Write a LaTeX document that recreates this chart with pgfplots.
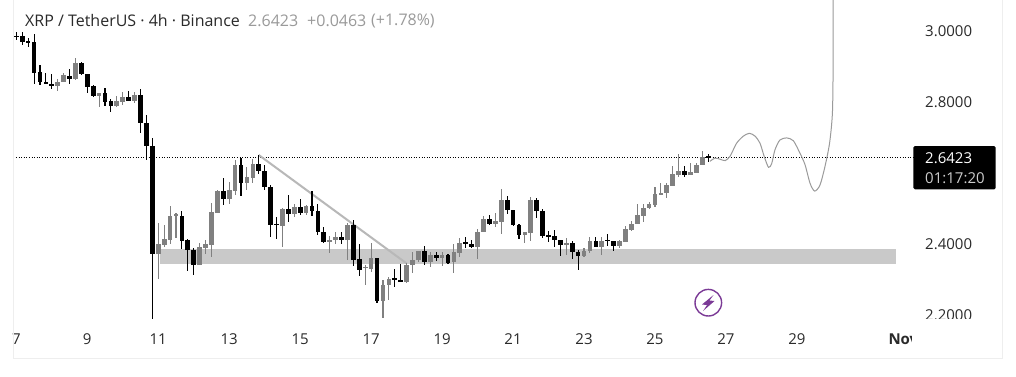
\documentclass[border=0pt]{standalone}
\usepackage{fontspec}
\setmainfont{Open Sans}
\usepackage{pgfplots}
\usepackage{pgfplotstable}
\pgfplotsset{compat=1.18}
\definecolor{upc}{HTML}{808080}
\definecolor{framec}{HTML}{EEEEEE}
\definecolor{bandc}{HTML}{C9C9C9}
\definecolor{textc}{HTML}{2A2A2A}
\definecolor{qc}{HTML}{9A9A9A}
\definecolor{purp}{HTML}{7B3A96}
\pgfplotstableread{
i o h l c
0 2.987 2.998 2.976 2.986
1 2.987 3.000 2.962 2.971
2 2.972 2.983 2.957 2.970
3 2.970 2.992 2.853 2.884
4 2.886 2.906 2.850 2.858
5 2.858 2.882 2.851 2.853
6 2.851 2.880 2.839 2.846
9 2.876 2.894 2.853 2.867
11 2.911 2.915 2.877 2.880
12 2.879 2.879 2.827 2.844
13 2.846 2.849 2.815 2.818
15 2.826 2.840 2.790 2.802
16 2.804 2.809 2.773 2.791
19 2.814 2.832 2.804 2.805
21 2.820 2.837 2.715 2.743
22 2.742 2.764 2.638 2.678
23 2.677 2.699 2.188 2.374
28 2.480 2.494 2.388 2.410
29 2.412 2.416 2.326 2.385
30 2.384 2.389 2.314 2.342
35 2.550 2.587 2.512 2.528
38 2.624 2.642 2.537 2.572
41 2.626 2.651 2.598 2.607
42 2.606 2.624 2.553 2.562
43 2.562 2.566 2.421 2.454
44 2.457 2.476 2.416 2.455
46 2.499 2.539 2.463 2.486
48 2.504 2.527 2.483 2.488
50 2.508 2.550 2.481 2.494
51 2.494 2.514 2.427 2.435
52 2.434 2.450 2.404 2.406
55 2.420 2.434 2.402 2.412
57 2.454 2.468 2.340 2.357
58 2.358 2.400 2.311 2.328
61 2.361 2.361 2.235 2.239
64 2.305 2.330 2.280 2.300
65 2.298 2.344 2.293 2.295
69 2.381 2.395 2.343 2.350
71 2.369 2.379 2.354 2.362
73 2.370 2.373 2.345 2.348
76 2.405 2.420 2.390 2.403
77 2.401 2.412 2.390 2.392
80 2.471 2.483 2.454 2.457
83 2.525 2.536 2.485 2.497
84 2.497 2.497 2.452 2.454
85 2.454 2.457 2.415 2.427
88 2.525 2.530 2.474 2.495
89 2.494 2.499 2.418 2.423
90 2.425 2.437 2.406 2.423
91 2.423 2.440 2.392 2.412
92 2.411 2.411 2.367 2.398
94 2.404 2.408 2.358 2.379
95 2.378 2.383 2.327 2.368
98 2.408 2.420 2.392 2.393
100 2.413 2.429 2.395 2.410
101 2.408 2.409 2.381 2.395
113 2.606 2.621 2.591 2.596
117 2.648 2.656 2.632 2.646
}\downtable
\pgfplotstableread{
i o h l c
7 2.846 2.865 2.833 2.858
8 2.859 2.882 2.858 2.876
10 2.866 2.924 2.863 2.911
14 2.819 2.828 2.788 2.826
17 2.791 2.818 2.788 2.803
18 2.802 2.829 2.794 2.814
20 2.805 2.830 2.799 2.820
24 2.374 2.459 2.303 2.401
25 2.398 2.454 2.393 2.415
26 2.413 2.508 2.402 2.480
27 2.483 2.487 2.418 2.484
31 2.342 2.403 2.341 2.391
32 2.390 2.412 2.373 2.400
33 2.398 2.516 2.365 2.491
34 2.489 2.552 2.487 2.550
36 2.529 2.576 2.515 2.553
37 2.551 2.638 2.538 2.624
39 2.572 2.619 2.554 2.589
40 2.588 2.641 2.573 2.626
45 2.452 2.501 2.391 2.499
47 2.486 2.513 2.477 2.504
49 2.489 2.511 2.484 2.508
53 2.407 2.422 2.375 2.411
54 2.412 2.436 2.401 2.420
56 2.412 2.459 2.356 2.454
59 2.334 2.341 2.285 2.337
60 2.331 2.404 2.323 2.361
62 2.240 2.299 2.193 2.284
63 2.286 2.308 2.243 2.302
66 2.294 2.346 2.291 2.342
67 2.341 2.378 2.319 2.356
68 2.356 2.381 2.350 2.381
70 2.351 2.377 2.336 2.370
72 2.361 2.379 2.340 2.370
74 2.350 2.400 2.319 2.377
75 2.375 2.417 2.364 2.404
78 2.392 2.443 2.358 2.435
79 2.435 2.479 2.435 2.471
81 2.457 2.488 2.449 2.466
82 2.463 2.555 2.429 2.525
86 2.426 2.435 2.404 2.435
87 2.433 2.533 2.409 2.525
93 2.398 2.418 2.370 2.404
96 2.367 2.389 2.364 2.380
97 2.380 2.421 2.375 2.408
99 2.392 2.420 2.370 2.408
102 2.395 2.411 2.390 2.409
103 2.407 2.451 2.406 2.443
104 2.441 2.465 2.438 2.457
105 2.457 2.515 2.457 2.483
106 2.480 2.515 2.463 2.501
107 2.501 2.519 2.499 2.514
108 2.511 2.562 2.505 2.541
109 2.541 2.572 2.541 2.544
110 2.546 2.573 2.531 2.567
111 2.565 2.620 2.563 2.597
112 2.596 2.655 2.591 2.606
114 2.596 2.628 2.594 2.603
115 2.602 2.628 2.600 2.625
116 2.625 2.663 2.623 2.647
}\uptable
\begin{document}
\begin{tikzpicture}[x=1pt,y=1pt]
\useasboundingbox (0,0) rectangle (1016,376);
\fill[white] (0,0) rectangle (1016,376);
\begin{axis}[
  at={(13.3pt,18pt)}, anchor=south west,
  scale only axis, width=989.4pt, height=358pt,
  xmin=6.915, xmax=34.80, ymin=2.0793, ymax=3.0889,
  axis line style={draw=none}, major tick length=0pt,
  xtick={7,9,11,13,15,17,19,21,23,25,27,29,32},
  xticklabels={7,9,11,13,15,17,19,21,23,25,27,29,\textbf{Nov}},
  ytick={2.2,2.4,2.8,3.0},
  yticklabel pos=right,
  /pgf/number format/fixed, /pgf/number format/fixed zerofill, /pgf/number format/precision=4,
  /pgf/number format/assume math mode=true,
  xticklabel style={anchor=center, yshift=19pt, font=\fontsize{15}{15}\selectfont, text=textc, inner sep=0pt},
  yticklabel style={anchor=west, xshift=-77.7pt, font=\fontsize{15}{15}\selectfont, text=textc, inner sep=0pt},
  error bars/error mark=none,
]
\addplot[bandc, fill=bandc, draw=none] coordinates {(11.05,2.344) (31.79,2.344) (31.79,2.387) (11.05,2.387)} -- cycle;
\addplot[black, line width=0.7pt, dash pattern=on 1pt off 1.6pt] coordinates {(6.915,2.6452) (32.28,2.6452)};
\addplot[color=black!28, line width=2pt] coordinates {(13.83,2.652) (18.0,2.346)};
\addplot[qc, line width=1pt, smooth, tension=0.45] coordinates {
 (26.55,2.634)(26.69,2.643)(26.83,2.640)(26.98,2.636)(27.12,2.649)(27.30,2.685)(27.49,2.705)(27.66,2.713)(27.82,2.705)(27.96,2.685)(28.08,2.647)(28.20,2.617)(28.29,2.628)(28.38,2.666)(28.52,2.694)(28.71,2.700)(28.90,2.692)(29.09,2.656)(29.23,2.624)(29.37,2.572)(29.50,2.550)(29.65,2.567)(29.79,2.619)(29.92,2.685)(30.00,2.769)(30.02,2.901)(30.02,3.089)};
% gray candles
\addplot[draw=none, mark=none, forget plot, error bars/.cd, y dir=both, y explicit, error bar style={upc, line width=1.1pt}]
 table[x expr=7+\thisrow{i}/6, y expr=(\thisrow{h}+\thisrow{l})/2, y error plus expr=(\thisrow{h}-\thisrow{l})/2, y error minus expr=(\thisrow{h}-\thisrow{l})/2] {\uptable};
\addplot[draw=none, mark=none, forget plot, error bars/.cd, y dir=both, y explicit, error bar style={upc, line width=4.7pt}]
 table[x expr=7+\thisrow{i}/6, y expr=(\thisrow{o}+\thisrow{c})/2, y error plus expr={max(abs(\thisrow{o}-\thisrow{c})/2,0.0015)}, y error minus expr={max(abs(\thisrow{o}-\thisrow{c})/2,0.0015)}] {\uptable};
% black candles
\addplot[draw=none, mark=none, forget plot, error bars/.cd, y dir=both, y explicit, error bar style={black, line width=1.1pt}]
 table[x expr=7+\thisrow{i}/6, y expr=(\thisrow{h}+\thisrow{l})/2, y error plus expr=(\thisrow{h}-\thisrow{l})/2, y error minus expr=(\thisrow{h}-\thisrow{l})/2] {\downtable};
\addplot[draw=none, mark=none, forget plot, error bars/.cd, y dir=both, y explicit, error bar style={black, line width=4.7pt}]
 table[x expr=7+\thisrow{i}/6, y expr=(\thisrow{o}+\thisrow{c})/2, y error plus expr={max(abs(\thisrow{o}-\thisrow{c})/2,0.0015)}, y error minus expr={max(abs(\thisrow{o}-\thisrow{c})/2,0.0015)}] {\downtable};
\end{axis}
% frame
\draw[framec, line width=0.9pt] (13.3,376) -- (13.3,18) -- (1002.7,18) -- (1002.7,376);
% clipped labels
\fill[white] (905,46) rectangle (1000,57.5);
\fill[white] (912,28) rectangle (940,50);
% title
\node[anchor=west, inner sep=0pt, text=textc, font=\fontsize{16}{16}\selectfont] at (25,355.5) {XRP / TetherUS · 4h · Binance};
\node[anchor=west, inner sep=0pt, text=qc, font=\fontsize{16}{16}\selectfont] at (248,355.5) {2.6423};
\node[anchor=west, inner sep=0pt, text=qc, font=\fontsize{16}{16}\selectfont] at (307,355.5) {+0.0463};
\node[anchor=west, inner sep=0pt, text=qc, font=\fontsize{16}{16}\selectfont] at (371,355.5) {(+1.78\%)};
% price tag
\fill[black, rounded corners=1.5pt] (913.3,186.7) rectangle (995.7,230);
\node[anchor=west, inner sep=0pt, text=white, font=\fontsize{15}{15}\selectfont] at (925,218) {2.6423};
\node[anchor=west, inner sep=0pt, text=black!20, font=\fontsize{15}{15}\selectfont] at (925,198) {01:17:20};
% icon
\draw[purp, line width=1.4pt] (708.3,73.3) circle (13.3);
\fill[purp] (713.5,81) -- (702,71.5) -- (707,71) -- (703,65) -- (714.5,75) -- (709.5,75.5) -- cycle;
\end{tikzpicture}
\end{document}
